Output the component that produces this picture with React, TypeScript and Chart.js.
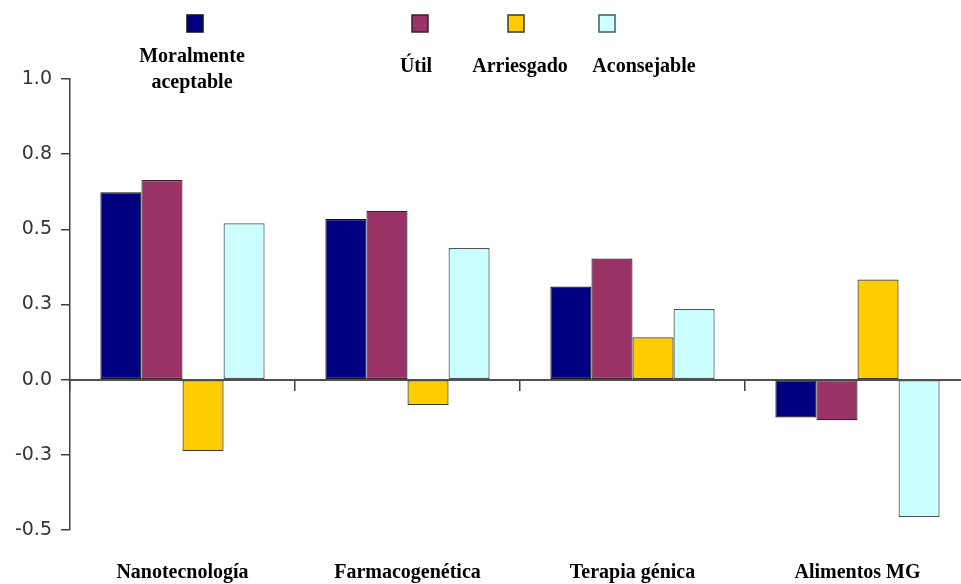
import { useEffect, useRef } from 'react';
import { Chart, registerables } from 'chart.js';

Chart.register(...registerables);

const categories = ['Nanotecnología', 'Farmacogenética', 'Terapia génica', 'Alimentos MG'];
const seriesNames = ['Moralmente aceptable', 'Útil', 'Arriesgado', 'Aconsejable'];
const legendLines = [['Moralmente', 'aceptable'], ['Útil'], ['Arriesgado'], ['Aconsejable']];
const moralmenteAceptable = [0.623, 0.534, 0.31, -0.126];
const util = [0.664, 0.562, 0.403, -0.135];
const arriesgado = [-0.238, -0.084, 0.141, 0.333];
const aconsejable = [0.52, 0.438, 0.235, -0.457];
const yTickValues = [-0.5, -0.25, 0, 0.25, 0.5, 0.75, 1.0];
const yTickLabels = ['-0.5', '-0.3', '0.0', '0.3', '0.5', '0.8', '1.0'];

const seriesValues = [moralmenteAceptable, util, arriesgado, aconsejable];
const fillColors = ['#000080', '#993366', '#FFCC00', '#CCFFFF'];
const edgeColors = ['#111111', '#3a2030', '#3a3a2a', '#4a5858'];

const SERIF = '"Liberation Serif", "Times New Roman", serif';

// legend layout (box centre x, text centre x, first baseline)
const legendPos = [
  { box: 195, text: 192, base: 62 },
  { box: 420, text: 416, base: 72 },
  { box: 516, text: 520, base: 72 },
  { box: 607, text: 644, base: 72 },
];

const legendPlugin = {
  id: 'customLegend',
  afterDraw(chart: any) {
    const ctx = chart.ctx;
    ctx.save();
    chart.data.datasets.forEach((ds: any, i: number) => {
      const p = legendPos[i];
      ctx.fillStyle = ds.backgroundColor;
      ctx.fillRect(p.box - 8, 15, 16, 17);
      ctx.strokeStyle = ds.borderColor;
      ctx.lineWidth = 1.5;
      ctx.strokeRect(p.box - 8, 15, 16, 17);
      ctx.fillStyle = '#000';
      ctx.font = `bold 20px ${SERIF}`;
      ctx.textAlign = 'center';
      ctx.textBaseline = 'alphabetic';
      legendLines[i].forEach((line, j) => {
        ctx.fillText(line, p.text, p.base + j * 26);
      });
    });
    ctx.restore();
  },
};

export default function App() {
  const ref = useRef<HTMLCanvasElement | null>(null);
  useEffect(() => {
    if (!ref.current) return;
    const chart = new Chart(ref.current, {
      type: 'bar',
      data: {
        labels: categories,
        datasets: seriesNames.map((name, i) => ({
          label: name,
          data: seriesValues[i],
          backgroundColor: fillColors[i],
          borderColor: edgeColors[i],
          borderWidth: 1.2,
          borderSkipped: false,
          barPercentage: 1,
          categoryPercentage: 0.73,
          xAxisID: 'x',
        })),
      },
      options: {
        animation: false,
        responsive: false,
        devicePixelRatio: 1,
        layout: { padding: { top: 79, bottom: 0, left: 0, right: 0 } },
        plugins: { legend: { display: false }, tooltip: { enabled: false } },
        scales: {
          x: {
            type: 'category',
            position: { y: 0 } as any,
            offset: true,
            ticks: { display: false, padding: 0 },
            afterFit: (scale: any) => {
              scale.height = 0;
            },
            grid: {
              offset: true,
              drawOnChartArea: false,
              drawTicks: true,
              tickLength: 10,
              color: '#404040',
              lineWidth: 1.5,
            },
            border: { display: true, color: '#505050', width: 2 },
          },
          x2: {
            type: 'category',
            position: 'bottom',
            offset: true,
            grid: { display: false, drawTicks: false },
            border: { display: false },
            afterFit: (scale: any) => {
              scale.height = 54;
            },
            ticks: {
              padding: 31,
              color: '#000',
              font: { family: SERIF, size: 20, weight: 'bold' },
              maxRotation: 0,
              autoSkip: false,
            },
          },
          y: {
            type: 'linear',
            min: -0.5,
            max: 1.0,
            afterBuildTicks: (scale: any) => {
              scale.ticks = yTickValues.map((v) => ({ value: v }));
            },
            afterFit: (scale: any) => {
              scale.width = 70;
            },
            ticks: {
              padding: 9,
              color: '#333',
              font: { family: '"DejaVu Sans", sans-serif', size: 19 },
              callback: (_v: any, idx: number) => yTickLabels[idx],
            },
            grid: {
              drawOnChartArea: false,
              drawTicks: true,
              tickLength: 9,
              color: '#404040',
              lineWidth: 1.5,
            },
            border: { display: true, color: '#404040', width: 1.5 },
          },
        },
      },
      plugins: [legendPlugin],
    });
    return () => chart.destroy();
  }, []);

  return (
    <div style={{ position: 'absolute', left: 0, top: 0, width: 961, height: 584, overflow: 'hidden', background: '#fff' }}>
      <canvas ref={ref} width={970} height={584} style={{ display: 'block' }} />
    </div>
  );
}
